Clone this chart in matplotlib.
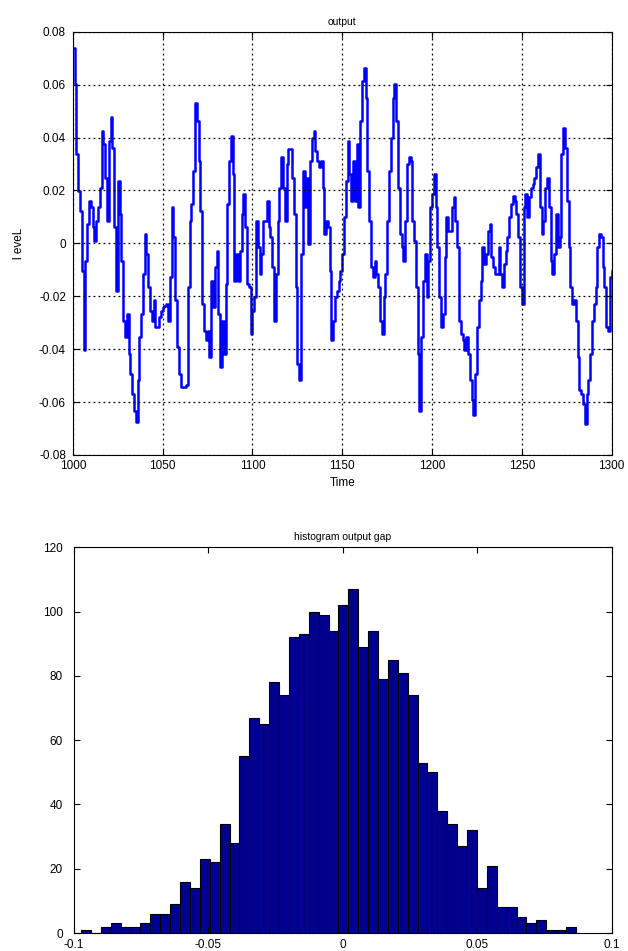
import numpy as np
import matplotlib
matplotlib.use('Agg')
import matplotlib.pyplot as plt
from matplotlib.ticker import FormatStrFormatter

plt.rcParams['font.family'] = ['Liberation Sans', 'DejaVu Sans']
plt.rcParams['axes.unicode_minus'] = False

# output level, one value per time step (1000..1300)
time = np.arange(1000, 1301)
level = [
    0.0740, 0.0601, 0.0337, 0.0199, 0.0123, -0.0103, -0.0405, -0.0065, 0.0073, 0.0161,
    0.0136, 0.0060, 0.0010, 0.0086, 0.0136, 0.0211, 0.0425, 0.0375, 0.0249, 0.0086,
    0.0387, 0.0476, 0.0362, 0.0060, -0.0179, 0.0236, 0.0111, -0.0065, -0.0292, -0.0355,
    -0.0267, -0.0418, -0.0493, -0.0569, -0.0632, -0.0676, -0.0518, -0.0355, -0.0267, -0.0116,
    0.0035, -0.0040, -0.0166, -0.0254, -0.0292, -0.0216, -0.0317, -0.0317, -0.0279, -0.0254,
    -0.0242, -0.0235, -0.0229, -0.0292, -0.0128, 0.0136, 0.0023, -0.0216, -0.0392, -0.0493,
    -0.0543, -0.0543, -0.0543, -0.0537, -0.0166, 0.0086, 0.0148, 0.0274, 0.0532, 0.0463,
    0.0312, 0.0123, -0.0229, -0.0330, -0.0367, -0.0330, -0.0430, -0.0141, -0.0242, -0.0091,
    -0.0028, -0.0267, -0.0468, -0.0292, -0.0418, -0.0153, 0.0148, 0.0312, 0.0406, 0.0262,
    -0.0141, -0.0040, -0.0141, -0.0028, 0.0111, 0.0186, 0.0060, -0.0153, -0.0166, -0.0342,
    -0.0254, -0.0204, 0.0086, -0.0015, -0.0116, -0.0040, 0.0086, 0.0086, 0.0161, 0.0060,
    0.0023, -0.0091, -0.0292, -0.0116, 0.0086, 0.0211, 0.0325, 0.0211, 0.0086, 0.0299,
    0.0356, 0.0356, 0.0249, 0.0111, -0.0166, -0.0455, -0.0518, -0.0040, 0.0274, 0.0136,
    0.0249, -0.0003, 0.0312, 0.0400, 0.0425, 0.0350, 0.0312, 0.0287, 0.0312, 0.0211,
    0.0035, 0.0086, 0.0060, -0.0103, -0.0367, -0.0292, -0.0204, -0.0179, -0.0141, -0.0103,
    -0.0040, 0.0098, 0.0236, 0.0387, 0.0262, 0.0161, 0.0312, 0.0161, 0.0375, 0.0136,
    0.0463, 0.0614, 0.0664, 0.0551, 0.0274, 0.0086, -0.0091, -0.0128, -0.0065, -0.0116,
    -0.0166, -0.0292, -0.0342, -0.0204, -0.0116, 0.0086, 0.0274, 0.0400, 0.0551, 0.0601,
    0.0463, 0.0211, 0.0035, -0.0015, -0.0065, 0.0086, 0.0299, 0.0325, 0.0312, 0.0086,
    0.0010, -0.0166, -0.0418, -0.0632, -0.0355, -0.0141, -0.0040, -0.0204, -0.0065, 0.0136,
    0.0186, 0.0262, 0.0136, -0.0015, -0.0204, -0.0317, -0.0267, -0.0053, 0.0098, 0.0048,
    0.0048, 0.0136, 0.0174, 0.0086, -0.0015, -0.0292, -0.0342, -0.0367, -0.0405, -0.0355,
    -0.0418, -0.0518, -0.0594, -0.0650, -0.0493, -0.0317, -0.0216, -0.0141, -0.0015, -0.0078,
    -0.0040, 0.0048, 0.0073, -0.0053, -0.0091, -0.0116, -0.0116, -0.0015, -0.0116, -0.0166,
    -0.0078, -0.0028, 0.0023, 0.0098, 0.0148, 0.0180, 0.0161, 0.0111, 0.0023, -0.0166,
    -0.0229, 0.0136, 0.0186, 0.0098, 0.0174, 0.0211, 0.0224, 0.0249, 0.0287, 0.0337,
    0.0136, 0.0035, 0.0086, 0.0211, 0.0249, 0.0136, -0.0065, -0.0116, -0.0040, 0.0111,
    -0.0015, 0.0023, 0.0337, 0.0438, 0.0362, 0.0161, -0.0015, -0.0166, -0.0229, -0.0216,
    -0.0292, -0.0430, -0.0556, -0.0569, -0.0606, -0.0682, -0.0569, -0.0518, -0.0418, -0.0292,
    -0.0229, -0.0166, -0.0015, 0.0035, 0.0023, -0.0091, -0.0166, -0.0317, -0.0330, -0.0128,
    -0.0103,
]
level_ticks = [-0.08, -0.06, -0.04, -0.02, 0, 0.02, 0.04, 0.06, 0.08]

# histogram of the output gap: 50 bins
hist_lo, hist_hi = -0.0974, 0.0867
counts = [
    1, 0, 2, 3, 2, 2, 3, 6, 6, 9,
    16, 14, 23, 22, 34, 28, 55, 67, 65, 78,
    74, 92, 93, 100, 99, 94, 102, 107, 89, 94,
    79, 85, 81, 74, 53, 50, 38, 34, 27, 32,
    14, 21, 8, 8, 5, 3, 4, 1, 1, 2,
]
gap_ticks = [-0.1, -0.05, 0, 0.05, 0.1]

fig = plt.figure(figsize=(6.28, 9.51), dpi=100)

ax1 = fig.add_axes([0.116, 0.5216, 0.858, 0.445])
ax1.plot(time, level, color='#0000ff', lw=1.8, drawstyle='steps-post')
ax1.set_xlim(1000, 1300)
ax1.set_ylim(-0.08, 0.08)
ax1.set_xticks(np.arange(1000, 1301, 50))
ax1.set_yticks(level_ticks)
ax1.yaxis.set_major_formatter(FormatStrFormatter('%g'))
ax1.grid(True, color='black', linestyle=(0, (1.5, 2.5)), linewidth=0.9)
ax1.set_title('output', fontsize=7.5, pad=5)
ax1.set_xlabel('Time', fontsize=8.5, labelpad=4)
ax1.set_ylabel('l eveL', fontsize=8.5, labelpad=10)

n = len(counts)
edges = np.linspace(hist_lo, hist_hi, n + 1)
ax2 = fig.add_axes([0.118, 0.0189, 0.856, 0.4055])
ax2.bar(edges[:-1], counts, width=np.diff(edges), align='edge',
        color='#000090', edgecolor='black', linewidth=0.8)
ax2.set_xlim(-0.1, 0.1)
ax2.set_ylim(0, 120)
ax2.set_xticks(gap_ticks)
ax2.set_yticks(np.arange(0, 121, 20))
ax2.xaxis.set_major_formatter(FormatStrFormatter('%g'))
ax2.set_title('histogram output gap', fontsize=7.5, pad=5)

for ax in (ax1, ax2):
    ax.tick_params(direction='in', top=True, right=True, labelsize=8.5,
                   length=4, width=0.8)
    for s in ax.spines.values():
        s.set_linewidth(0.8)
    ax.set_axisbelow(False)
ax1.tick_params(axis='y', pad=5)
ax2.tick_params(axis='y', pad=8)
ax2.tick_params(axis='x', pad=4)

fig.savefig('out.png', dpi=100)
